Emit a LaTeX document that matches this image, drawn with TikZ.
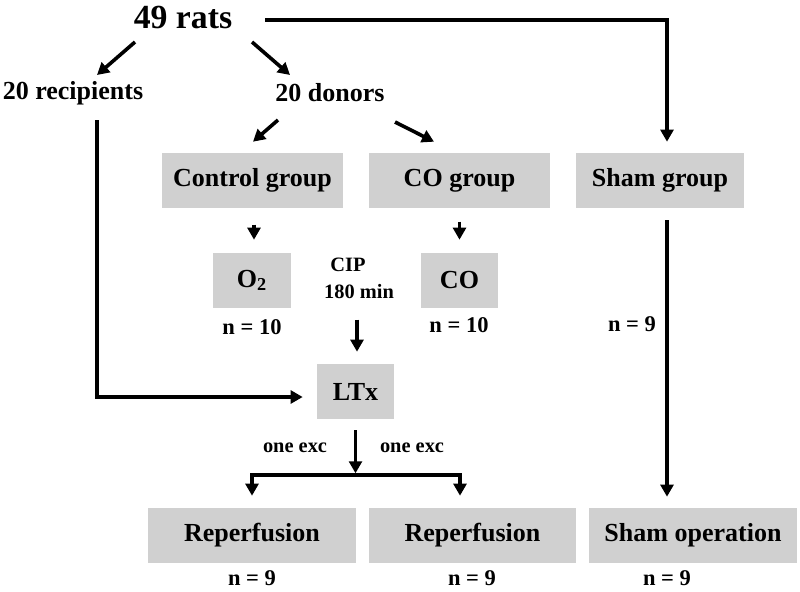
\documentclass[tikz,border=0pt]{standalone}
\usepackage{fontspec}
\setmainfont{Liberation Serif}
\usetikzlibrary{arrows.meta,calc}
\definecolor{boxgray}{RGB}{208,208,208}
\tikzset{
  box/.style={fill=boxgray, minimum height=1.375cm, inner sep=0pt, font=\fontsize{18.5}{20}\selectfont\bfseries},
  word/.style={inner sep=0pt, font=\fontsize{18.5}{20}\selectfont\bfseries},
  small/.style={inner sep=0pt, font=\fontsize{14.5}{16}\selectfont\bfseries},
  count/.style={inner sep=0pt, font=\fontsize{16}{18}\selectfont\bfseries},
  arr/.style={line width=0.09cm, -{Triangle[width=0.32cm,length=0.3cm]}},
  arrboth/.style={line width=0.09cm, {Triangle[width=0.32cm,length=0.3cm]}-{Triangle[width=0.32cm,length=0.3cm]}},
}

\begin{document}
\begin{tikzpicture}[x=0.025cm, y=-0.025cm]
			%%%%% START %%%%%
			\useasboundingbox (0,0) rectangle (800,591);
			
			\node[word, font=\fontsize{24}{26}\selectfont\bfseries] (rats) at (183,17) {49 rats};
			\node[word] (recip) at (73,93) {20 recipients};
			\node[word] (donors) at (330,93) {20 donors};
			
			\node[box, minimum width=4.525cm] (ctrl) at (252.5,180.5) {Control group};
			\node[box, minimum width=4.525cm] (cogrp) at (459.5,180.5) {CO group};
			\node[box, minimum width=4.2cm] (sham) at (660,180.5) {Sham group};
			
			\node[box, minimum width=1.95cm] (otwo) at (252,280.5) {O\textsubscript{2}};
			\node[box, minimum width=1.925cm] (cogas) at (459.5,280.5) {CO};
			\node[small] (cip) at (348,265) {CIP};
			\node[small] (cipmin) at (359,292) {180 min};
			\node[count] (nO) at (252,327) {n = 10};
			\node[count] (nCO) at (459,325) {n = 10};
			\node[count] (nSham) at (632,324) {n = 9};
			
			\node[box, minimum width=1.925cm] (ltx) at (355.5,391.5) {LTx};
			\node[small] (excA) at (295,448) {one exc};
			\node[small] (excB) at (412,448) {one exc};
			
			\node[box, minimum width=5.2cm] (repA) at (252,535.5) {Reperfusion};
			\node[box, minimum width=5.175cm] (repB) at (472.5,535.5) {Reperfusion};
			\node[box, minimum width=5.2cm] (shamop) at (693,535.5) {Sham operation};
			\node[count] (nA) at (252,578) {n = 9};
			\node[count] (nB) at (472,578) {n = 9};
			\node[count] (nC) at (667,578) {n = 9};
			
			% split of the rats
			\draw[arr] ($(rats)+(-48,25)$) -- ($(recip)+(24,-18)$);
			\draw[arr] ($(rats)+(69,25)$) -- ($(donors)+(-40,-18)$);
			\draw[arr] ($(rats)+(82,3)$) -| ($(sham.north)+(7,-11)$);
			
			\draw[arr] ($(donors)+(-52,27)$) -- ($(ctrl.north)+(0.5,-11)$);
			\draw[arr] ($(donors)+(65,29)$) -- ($(cogrp.north)+(-25.5,-11)$);
			
			\draw[arr] ($(otwo.north)+(2,-28)$) -- ($(otwo.north)+(2,-13)$);
			\draw[arr] ($(cogas.north)+(0,-31)$) -- ($(cogas.north)+(0,-13)$);
			\draw[arr] ($(ltx.north)+(1.5,-44)$) -- ($(ltx.north)+(1.5,-12)$);
			
			\draw[arr] ($(recip)+(24,27)$) |- ($(ltx.west)+(-14,5.5)$);
			\draw[arr] ($(sham.south)+(7,12)$) -- ($(shamop.north)+(-26,-11)$);
			
			\draw[arr] ($(ltx.south)+(0,11)$) -- ($(ltx.south)+(0,54)$);
			\draw[arrboth] ($(repA.north)+(0,-12)$) |- ($(repB.north)+(-12.5,-33)$) -- ($(repB.north)+(-12.5,-12)$);
			
			%%%%% END %%%%%
\end{tikzpicture}
\end{document}
